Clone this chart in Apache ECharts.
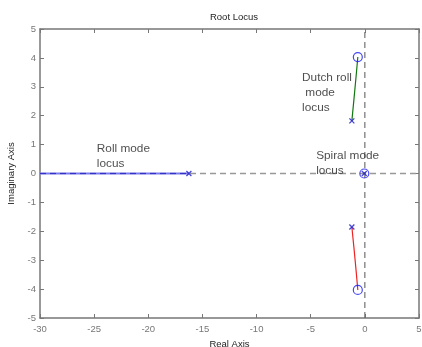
<!DOCTYPE html>
<html><head><meta charset="utf-8">
<script src="https://cdn.jsdelivr.net/npm/echarts@6/dist/echarts.min.js"></script>
<style>html,body{margin:0;padding:0;background:#fff}#c{width:422px;height:347px}</style>
</head><body><div id="c"></div>
<script>
const xTicks = [-30, 5, 5];   // min, max, interval
const yTicks = [-5, 5, 1];
const rollLocus = [[-30, 0], [-16.25, 0]];
const dutchUpper = [[-1.2, 1.82], [-1.0, 2.6], [-0.8, 3.4], [-0.65, 4.03]];
const dutchLower = [[-1.2, -1.85], [-1.0, -2.6], [-0.8, -3.4], [-0.65, -4.03]];
const poles = [[-16.25, 0], [-1.2, 1.82], [-1.2, -1.85], [-0.05, 0]];
const zeros = [[-0.65, 4.03], [-0.65, -4.03], [-0.05, 0]];
const notes = [
  {pos: [-24.75, 1.12], text: 'Roll mode\nlocus'},
  {pos: [-5.8, 3.58], text: 'Dutch roll\n mode\nlocus'},
  {pos: [-4.5, 0.86], text: 'Spiral mode\nlocus'}
];
const FONT = 'Liberation Sans';
const chart = echarts.init(document.getElementById('c'), null, {renderer: 'canvas'});
const axisCommon = {
  axisLine: {onZero: false, lineStyle: {color: '#777', width: 1.5}},
  axisTick: {inside: true, length: 4, lineStyle: {color: '#777'}},
  splitLine: {show: false},
  axisLabel: {color: '#777', fontSize: 9, fontFamily: FONT}
};
const xMark = 'path://M0,0L10,10M10,0L0,10';
chart.setOption({
  animation: false,
  title: {text: 'Root Locus', left: 229, top: 7, textAlign: 'center',
    textStyle: {fontSize: 9.5, fontWeight: 'normal', color: '#222', fontFamily: FONT}},
  grid: {left: 40, right: 3, top: 29, bottom: 29, containLabel: false, outerBoundsMode: 'none'},
  xAxis: [
    Object.assign({type: 'value', min: xTicks[0], max: xTicks[1], interval: xTicks[2],
      name: 'Real Axis', nameLocation: 'middle', nameGap: 21,
      nameTextStyle: {fontSize: 9.5, color: '#222', fontFamily: FONT}}, axisCommon,
      {axisLabel: {color: '#777', fontSize: 9.5, fontFamily: FONT, margin: 6}}),
    Object.assign({type: 'value', position: 'top', min: xTicks[0], max: xTicks[1], interval: xTicks[2]}, axisCommon, {axisLabel: {show: false}})
  ],
  yAxis: [
    Object.assign({type: 'value', min: yTicks[0], max: yTicks[1], interval: yTicks[2],
      name: 'Imaginary Axis', nameLocation: 'middle', nameGap: 21,
      nameTextStyle: {fontSize: 9.5, color: '#222', fontFamily: FONT}}, axisCommon,
      {axisLabel: {color: '#777', fontSize: 9.5, fontFamily: FONT, margin: 4}}),
    Object.assign({type: 'value', position: 'right', min: yTicks[0], max: yTicks[1], interval: yTicks[2]}, axisCommon, {axisLabel: {show: false}})
  ],
  series: [
    {type: 'line', data: [[xTicks[0], 0], [xTicks[1], 0]], symbol: 'none',
      lineStyle: {color: '#999', width: 1.3, type: [6, 4]}, z: 1},
    {type: 'line', data: [[0, yTicks[0]], [0, yTicks[1]]], symbol: 'none',
      lineStyle: {color: '#666', width: 1.1, type: [6, 4]}, z: 1},
    {type: 'line', data: rollLocus, symbol: 'none', lineStyle: {color: '#7a7aee', width: 2}, z: 2},
    {type: 'line', data: rollLocus, symbol: 'none', lineStyle: {color: '#3333cc', width: 1.2, type: [6, 4]}, z: 3},
    {type: 'line', data: dutchUpper, symbol: 'none', smooth: true, lineStyle: {color: '#117711', width: 1.2}, z: 3},
    {type: 'line', data: dutchLower, symbol: 'none', smooth: true, lineStyle: {color: '#ee2222', width: 1.2}, z: 3},
    {type: 'scatter', data: zeros, symbol: 'circle', symbolSize: 9,
      itemStyle: {color: 'rgba(255,255,255,0)', borderColor: '#1a1aee', borderWidth: 1.2}, z: 4},
    {type: 'scatter', data: poles, symbol: xMark, symbolSize: 5,
      itemStyle: {color: 'rgba(0,0,0,0)', borderColor: '#1a1acc', borderWidth: 1.3}, z: 5},
    {type: 'scatter', data: notes.map(n => ({value: n.pos, label: {formatter: n.text}})),
      symbolSize: 0, silent: true,
      label: {show: true, position: 'inside', align: 'left', verticalAlign: 'top',
        fontSize: 11.8, lineHeight: 15, color: '#222', fontFamily: FONT}, z: 6}
  ]
});
</script></body></html>
